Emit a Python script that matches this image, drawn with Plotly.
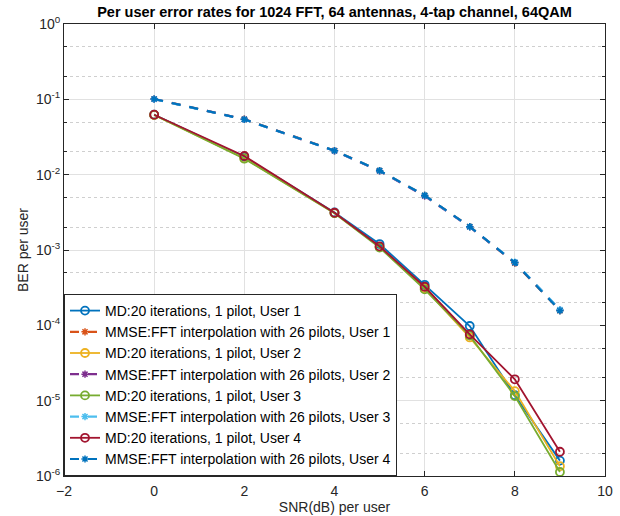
import plotly.graph_objects as go

snr = [0, 2, 4, 5, 6, 7, 8, 9]

md_u1 = [0.0625, 0.0172, 0.00315, 0.00120, 3.45e-4, 9.8e-5, 1.18e-5, 1.6e-6]
md_u2 = [0.0620, 0.0165, 0.00310, 0.00110, 3.10e-4, 6.9e-5, 1.34e-5, 1.35e-6]
md_u3 = [0.0622, 0.0163, 0.00308, 0.00108, 3.00e-4, 7.3e-5, 1.15e-5, 1.13e-6]
md_u4 = [0.0625, 0.0177, 0.00312, 0.00112, 3.25e-4, 7.6e-5, 1.92e-5, 2.1e-6]

mmse_u1 = [0.1010, 0.0545, 0.0209, 0.0113, 0.0053, 0.00204, 6.7e-4, 1.57e-4]
mmse_u2 = [0.1008, 0.0542, 0.0207, 0.0112, 0.0052, 0.00202, 6.8e-4, 1.60e-4]
mmse_u3 = [0.1005, 0.0540, 0.0208, 0.0113, 0.0053, 0.00203, 6.9e-4, 1.62e-4]
mmse_u4 = [0.1010, 0.0543, 0.0208, 0.0113, 0.0053, 0.00204, 6.8e-4, 1.56e-4]

labels = [
    "MD:20 iterations, 1 pilot, User 1",
    "MMSE:FFT interpolation with 26 pilots, User 1",
    "MD:20 iterations, 1 pilot, User 2",
    "MMSE:FFT interpolation with 26 pilots, User 2",
    "MD:20 iterations, 1 pilot, User 3",
    "MMSE:FFT interpolation with 26 pilots, User 3",
    "MD:20 iterations, 1 pilot, User 4",
    "MMSE:FFT interpolation with 26 pilots, User 4",
]
series = [md_u1, mmse_u1, md_u2, mmse_u2, md_u3, mmse_u3, md_u4, mmse_u4]
colors = ["#0072BD", "#D95319", "#EDB120", "#7E2F8E",
          "#77AC30", "#4DBEEE", "#A2142F", "#0072BD"]

ytick_vals = [1e-6, 1e-5, 1e-4, 1e-3, 1e-2, 1e-1, 1]
ytick_text = ["10<sup>-6</sup>", "10<sup>-5</sup>", "10<sup>-4</sup>",
              "10<sup>-3</sup>", "10<sup>-2</sup>", "10<sup>-1</sup>", "10<sup>0</sup>"]
xtick_vals = [-2, 0, 2, 4, 6, 8, 10]

FONT = "Liberation Sans, Arial, Helvetica, sans-serif"

fig = go.Figure()
for i, (name, ys, c) in enumerate(zip(labels, series, colors)):
    is_md = (i % 2 == 0)
    fig.add_trace(go.Scatter(
        x=snr, y=ys, name=name, mode="lines+markers",
        line=dict(color=c, width=1.8 if is_md else 2.2, dash="solid" if is_md else "dash"),
        marker=dict(symbol="circle-open" if is_md else "asterisk-open",
                    size=8 if is_md else 6, color=c,
                    line=dict(color=c, width=1.8 if is_md else 1.5)),
    ))

axis_common = dict(
    showline=True, linecolor="#262626", linewidth=1, mirror="allticks",
    ticks="inside", ticklen=5, tickcolor="#262626",
    showgrid=True, gridcolor="#e1e1e1", gridwidth=1, zeroline=False,
    automargin=False,
    tickfont=dict(family=FONT, size=14, color="#262626"),
)

fig.update_xaxes(
    range=[-2, 10], tickvals=xtick_vals, ticklabelstandoff=2,
    title=dict(text="SNR(dB) per user", standoff=2,
               font=dict(family=FONT, size=14, color="#262626")),
    **axis_common,
)
fig.update_yaxes(
    type="log", range=[-6, 0], tickvals=ytick_vals, ticktext=ytick_text,
    title=dict(text="BER per user", standoff=4,
               font=dict(family=FONT, size=14, color="#262626")),
    minor=dict(ticks="inside", ticklen=3, tickcolor="#262626", showgrid=True,
               gridcolor="#cfcfcf", griddash="dot", gridwidth=1),
    **axis_common,
)

fig.update_layout(
    width=620, height=516,
    margin=dict(l=64, r=15, t=24, b=40),
    paper_bgcolor="white", plot_bgcolor="white",
    title=dict(text="<b>Per user error rates for 1024 FFT, 64 antennas, 4-tap channel, 64QAM</b>",
               x=(64 + 605) / 2 / 620, xanchor="center", y=1 - 12 / 516, yanchor="middle",
               font=dict(family=FONT, size=14.5, color="black")),
    legend=dict(x=0, y=0, xanchor="left", yanchor="bottom",
                bgcolor="white", bordercolor="#262626", borderwidth=1,
                font=dict(family=FONT, size=14, color="black"),
                tracegroupgap=0, itemwidth=30),
    showlegend=True,
)

fig.write_html("out.html")
